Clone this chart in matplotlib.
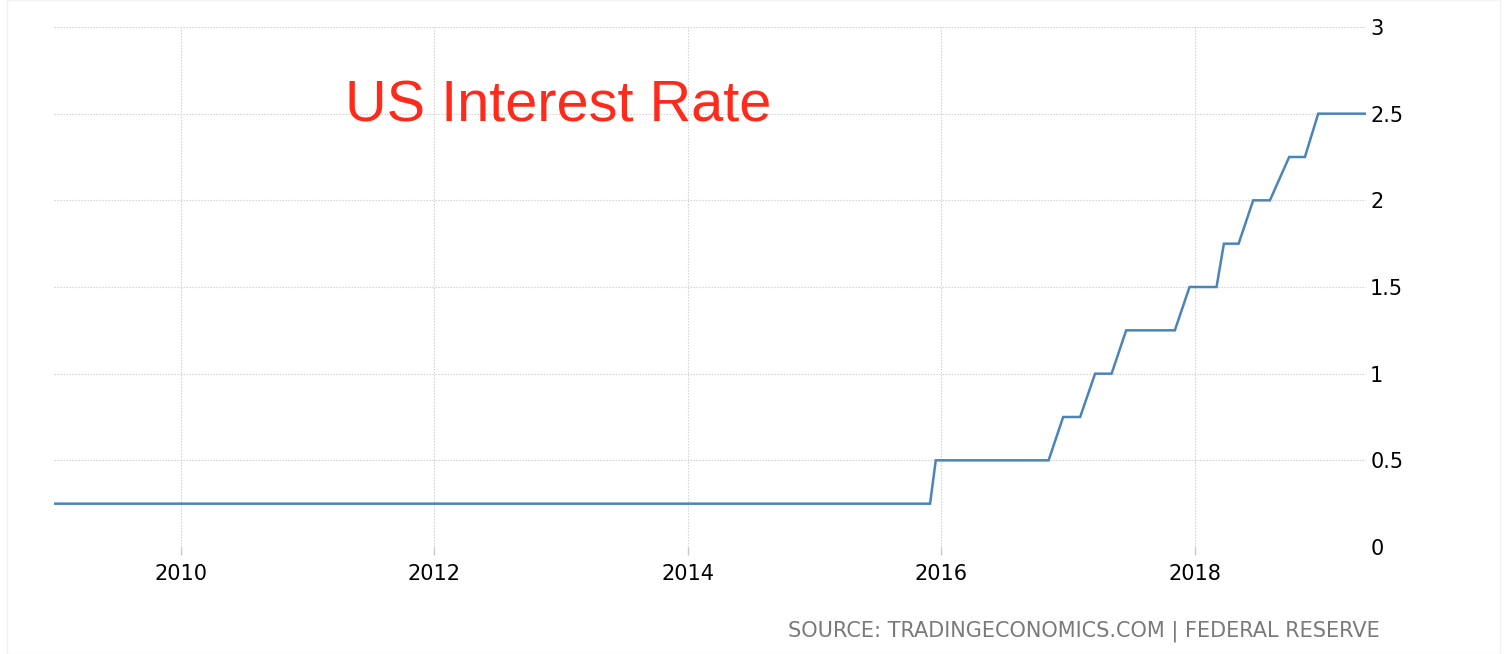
import matplotlib
matplotlib.use("Agg")
import matplotlib.pyplot as plt
from matplotlib.ticker import FuncFormatter
from matplotlib.patches import Rectangle

# breakpoints of the rate path (decimal year, percent)
dates = [2009.0, 2015.911, 2015.956, 2016.846, 2016.961, 2017.095, 2017.213,
         2017.343, 2017.458, 2017.842, 2017.958, 2018.171, 2018.229, 2018.345,
         2018.460, 2018.592, 2018.744, 2018.868, 2018.973, 2019.345]
rates = [0.25, 0.25, 0.5, 0.5, 0.75, 0.75, 1.0,
         1.0, 1.25, 1.25, 1.5, 1.5, 1.75, 1.75,
         2.0, 2.0, 2.25, 2.25, 2.5, 2.5]

x_ticks = [2010, 2012, 2014, 2016, 2018]
y_ticks = [0, 0.5, 1, 1.5, 2, 2.5, 3]

fig = plt.figure(figsize=(15.1, 6.54), dpi=100)
ax = fig.add_axes([54 / 1510, 1 - 547 / 654, (1366 - 54) / 1510, (547 - 27) / 654])

ax.plot(dates, rates, color="#4a84b8", lw=1.8, solid_joinstyle="miter")

ax.set_xlim(2009.0, 2019.35)
ax.set_ylim(0, 3)
ax.set_xticks(x_ticks)
ax.set_yticks(y_ticks)
ax.yaxis.tick_right()
ax.yaxis.set_major_formatter(FuncFormatter(lambda v, p: "%g" % v))
ax.tick_params(axis="y", length=0, pad=3, labelsize=15, labelcolor="black")
ax.tick_params(axis="x", length=6, width=1, color="#c8c8c8", pad=6,
               labelsize=15, labelcolor="black")
for lbl in ax.get_yticklabels():
    lbl.set_horizontalalignment("left")

ax.grid(True, color="#cccccc", linestyle=(0, (1.2, 1.5)), linewidth=0.8)
for s in ax.spines.values():
    s.set_visible(False)

fig.text(345 / 1510, 1 - 121 / 654, "US Interest Rate", color="#ff2a1a",
         fontsize=41.5, family="Liberation Sans", va="baseline", ha="left")
fig.text(1380 / 1510, 1 - 637 / 654,
         "SOURCE: TRADINGECONOMICS.COM | FEDERAL RESERVE",
         color="#7a7a7a", fontsize=15, ha="right", va="baseline")

fig.patches.append(Rectangle((7 / 1510, 0), (1500 - 7) / 1510, 1.0,
                             transform=fig.transFigure, fill=False,
                             edgecolor="#f2f2f2", lw=1))

fig.savefig("out.png", dpi=100)
